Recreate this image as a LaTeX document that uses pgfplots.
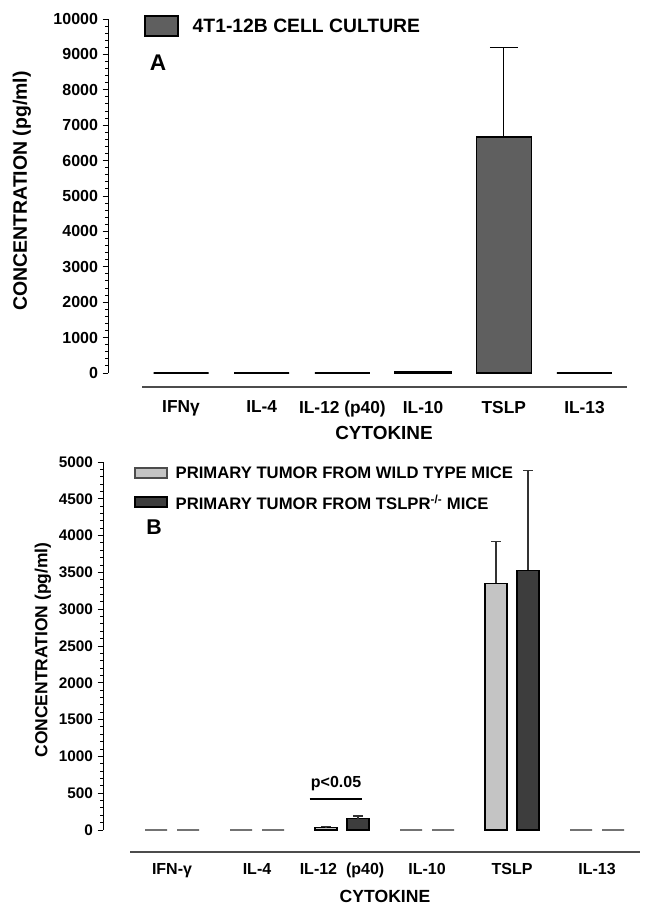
\documentclass[border=0pt]{standalone}
\usepackage{fontspec}
\setmainfont{Liberation Sans}
\usepackage{pgfplots}
\pgfplotsset{compat=1.18}
\definecolor{gA}{HTML}{5F5F5F}
\definecolor{gWT}{HTML}{C4C4C4}
\definecolor{gKO}{HTML}{3D3D3D}
\pgfplotsset{
 common/.style={
  scale only axis, axis lines*=left, axis line style={draw=none},
  tick align=outside, xtick style={draw=none},
  ytick style={black, line width=0.7pt}, major tick length=4pt, minor tick length=2.2pt,
  xtick={0,...,5}, scaled y ticks=false,
  /pgf/number format/assume math mode=true,
  /pgf/number format/1000 sep={},
  clip=false,
 }
}
\begin{document}
\begin{tikzpicture}
\path[use as bounding box] (0,0) rectangle (486.75pt,-687pt);
% ---------------- Panel A
\begin{axis}[common, ybar, at={(81pt,-14.25pt)}, anchor=north west, width=389.25pt, height=276pt,
 xmin=-0.905, xmax=5.527, ymin=-395.5, ymax=10000,
 ytick={0,1000,...,10000}, minor ytick={200,400,...,9800},
 yticklabel style={font=\fontsize{12}{12}\selectfont\bfseries},
 xticklabels={IFNγ, IL-4, IL-12 (p40), IL-10, TSLP, IL-13},
 xticklabel style={font=\fontsize{13}{13}\selectfont\bfseries, yshift=-3pt},
]
\addplot[bar width=41.25pt, bar shift=0pt, fill=gA, draw=black, line width=1pt,
 error bars/.cd, y dir=plus, y explicit, error bar style={line width=1pt, black},
 error mark options={rotate=90, line width=1pt, mark size=10.5pt}]
 coordinates {(4,6670) +- (0,2530)};
\addplot[bar width=41.25pt, bar shift=0pt, fill=black, draw=black, line width=2pt]
 coordinates {(0,0) (1,0) (2,0) (3,25) (5,0)};
\draw[line width=0.7pt] (axis cs:-0.905,0) -- (axis cs:-0.905,10000);
\draw[line width=0.8pt, black!70] (axis cs:-0.483,-395.5) -- (axis cs:5.527,-395.5);
\end{axis}
% ---------------- Panel B
\begin{axis}[common, ybar, at={(77.25pt,-346.5pt)}, anchor=north west, width=402.75pt, height=292.5pt,
 xmin=-0.812, xmax=5.506, ymin=-299, ymax=5000,
 ytick={0,500,...,5000}, minor ytick={100,200,...,4900},
 yticklabel style={font=\fontsize{11.5}{11.5}\selectfont\bfseries},
 xticklabels={IFN-γ, IL-4, IL-12\ \ (p40), IL-10, TSLP, IL-13},
 xticklabel style={font=\fontsize{12}{12}\selectfont\bfseries, yshift=-1pt},
]
\addplot[bar width=16.5pt, bar shift=-12pt, fill=gWT, draw=black, line width=0.8pt,
 error bars/.cd, y dir=plus, y explicit, error bar style={line width=0.8pt, black!80},
 error mark options={rotate=90, line width=0.8pt, black!80, mark size=3.75pt}]
 coordinates {(2,30) +- (0,15) (4,3350) +- (0,570)};
\addplot[bar width=16.5pt, bar shift=12pt, fill=gKO, draw=black, line width=0.8pt,
 error bars/.cd, y dir=plus, y explicit, error bar style={line width=0.8pt, black!80},
 error mark options={rotate=90, line width=0.8pt, black!80, mark size=3.75pt}]
 coordinates {(2,150) +- (0,40) (4,3530) +- (0,1360)};
\addplot[bar width=16.5pt, bar shift=-12pt, fill=gray, draw=black!55, line width=1.3pt]
 coordinates {(0,0) (1,0) (3,0) (5,0)};
\addplot[bar width=16.5pt, bar shift=12pt, fill=gray, draw=black!55, line width=1.3pt]
 coordinates {(0,0) (1,0) (3,0) (5,0)};
\draw[line width=0.7pt] (axis cs:-0.812,0) -- (axis cs:-0.812,5000);
\draw[line width=0.8pt, black!70] (axis cs:-0.494,-299) -- (axis cs:5.506,-299);
\draw[line width=1.5pt] (axis cs:1.62,421) -- (axis cs:2.235,421);
\node[font=\fontsize{12}{12}\selectfont\bfseries] at (axis cs:1.93,625) {p<0.05};
\end{axis}
% ---------------- annotations (pixel units)
\begin{scope}[x=0.75pt, y=-0.75pt]
\draw[fill=gA, draw=black, line width=1pt] (145,16) rectangle (178,36);
\node[anchor=west, font=\fontsize{14.5}{14.5}\selectfont\bfseries] at (188,26) {4T1-12B CELL CULTURE};
\node[font=\fontsize{17}{17}\selectfont\bfseries] at (158,63) {A};
\node[font=\fontsize{14.2}{14.2}\selectfont\bfseries] at (384,433) {CYTOKINE};
\node[rotate=90, font=\fontsize{14.6}{14.6}\selectfont\bfseries] at (22,191) {CONCENTRATION (pg/ml)};
\draw[fill=gWT, draw=black!70, line width=0.8pt] (135,468) rectangle (167,478);
\node[anchor=west, font=\fontsize{12.5}{12.5}\selectfont\bfseries] at (171,473) {PRIMARY TUMOR FROM WILD TYPE MICE};
\draw[fill=gKO, draw=black, line width=0.8pt] (135,497) rectangle (167,507);
\node[anchor=west, font=\fontsize{12.5}{12.5}\selectfont\bfseries] at (171,502) {PRIMARY TUMOR FROM TSLPR\textsuperscript{-/-} MICE};
\node[font=\fontsize{16}{16}\selectfont\bfseries] at (154,527) {B};
\node[font=\fontsize{13.2}{13.2}\selectfont\bfseries] at (385,896) {CYTOKINE};
\node[rotate=90, font=\fontsize{13.1}{13.1}\selectfont\bfseries] at (43,650) {CONCENTRATION (pg/ml)};
\end{scope}
\end{tikzpicture}
\end{document}
